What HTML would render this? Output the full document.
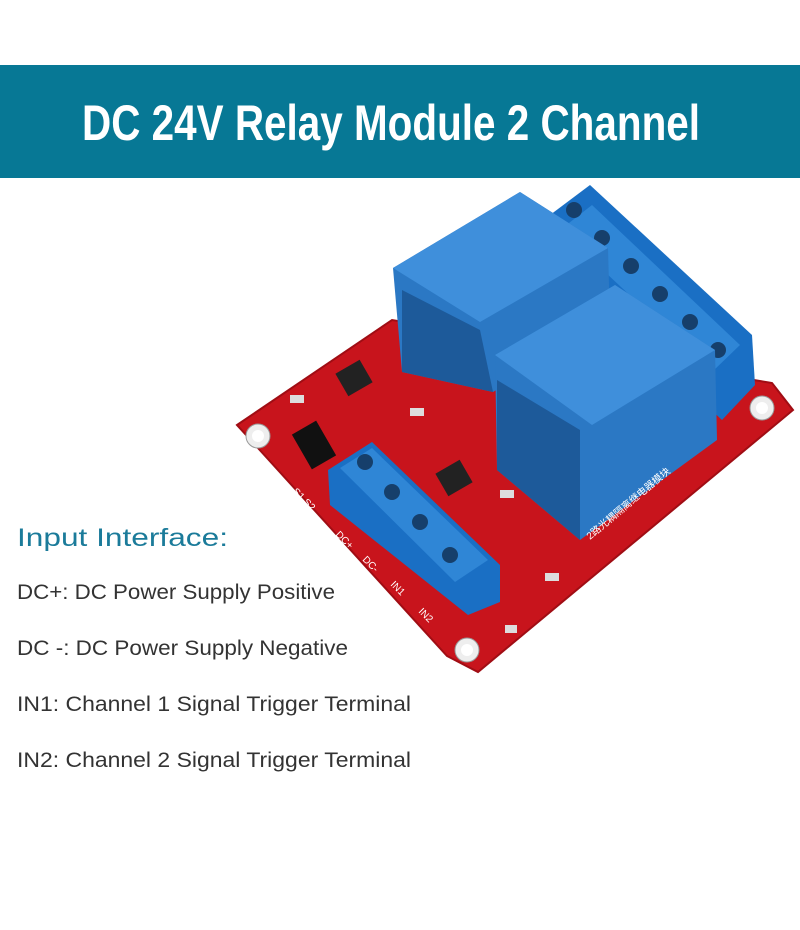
<!DOCTYPE html>
<html><head><meta charset="utf-8"><style>
html,body{margin:0;padding:0;background:#fff;width:800px;height:930px;overflow:hidden;font-family:"Liberation Sans",sans-serif}
</style></head><body>
<div style="position:absolute;left:0;top:65px;width:800px;height:113px;background:#077895"></div>
<svg style="position:absolute;left:0;top:0" width="800" height="930">
<text x="82" y="140" textLength="618" lengthAdjust="spacingAndGlyphs" font-family="Liberation Sans Narrow, Liberation Sans, sans-serif" font-weight="bold" font-size="50" fill="#fff">DC 24V Relay Module 2 Channel</text>
<!-- board -->
<polygon points="237,425 392,320 772,383 793,410 478,672 447,656" fill="#c8141c"/>
<polygon points="237,425 392,320 772,383 793,410 478,672 447,656" fill="none" stroke="#a00d14" stroke-width="2"/>
<circle cx="258" cy="436" r="12" fill="#eee" stroke="#999"/><circle cx="258" cy="436" r="6" fill="#fff"/>
<circle cx="762" cy="408" r="12" fill="#eee" stroke="#999"/><circle cx="762" cy="408" r="6" fill="#fff"/>
<circle cx="467" cy="650" r="12" fill="#eee" stroke="#999"/><circle cx="467" cy="650" r="6" fill="#fff"/>
<!-- right terminal block -->
<polygon points="550,215 590,185 752,335 755,385 722,420 560,270" fill="#1a6fc4"/>
<polygon points="560,230 592,205 740,345 712,372" fill="#2f86d6"/>
<g fill="#163f6b"><circle cx="574" cy="210" r="8"/><circle cx="602" cy="238" r="8"/><circle cx="631" cy="266" r="8"/><circle cx="660" cy="294" r="8"/><circle cx="690" cy="322" r="8"/><circle cx="718" cy="350" r="8"/></g>
<!-- relay 1 -->
<polygon points="393,268 520,192 608,248 610,322 493,392 402,372" fill="#2b78c4"/>
<polygon points="393,268 520,192 608,248 480,322" fill="#3f8fdb"/>
<polygon points="402,372 402,290 480,330 493,392" fill="#1d5a9a"/>
<!-- relay 2 -->
<polygon points="495,355 615,285 715,350 717,440 580,540 497,470" fill="#2b78c4"/>
<polygon points="495,355 615,285 715,350 592,425" fill="#3f8fdb"/>
<polygon points="497,470 497,380 580,430 580,540" fill="#1d5a9a"/>
<!-- chips -->
<rect x="340" y="365" width="28" height="26" fill="#222" transform="rotate(-30 354 378)"/>
<rect x="440" y="465" width="28" height="26" fill="#222" transform="rotate(-30 454 478)"/>
<rect x="300" y="425" width="28" height="40" fill="#111" transform="rotate(-30 314 445)"/>
<g fill="#ddd"><rect x="290" y="395" width="14" height="8"/><rect x="410" y="408" width="14" height="8"/><rect x="500" y="490" width="14" height="8"/><rect x="545" y="573" width="14" height="8"/><rect x="505" y="625" width="12" height="8"/></g>
<!-- left terminal block -->
<polygon points="328,470 372,442 500,565 500,602 468,615 330,505" fill="#1a6fc4"/>
<polygon points="340,468 372,448 488,560 455,582" fill="#2f86d6"/>
<g fill="#163f6b"><circle cx="365" cy="462" r="8"/><circle cx="392" cy="492" r="8"/><circle cx="420" cy="522" r="8"/><circle cx="450" cy="555" r="8"/></g>
<g fill="#fff" font-size="10" font-family="Liberation Sans,sans-serif">
<text x="335" y="535" transform="rotate(45 335 535)">DC+</text>
<text x="362" y="560" transform="rotate(45 362 560)">DC-</text>
<text x="390" y="585" transform="rotate(45 390 585)">IN1</text>
<text x="418" y="612" transform="rotate(45 418 612)">IN2</text>
<text x="292" y="492" transform="rotate(45 292 492)">S1 S2</text>
</g>
<text x="590" y="540" font-size="10" fill="#fff" transform="rotate(-40 590 540)" font-family="Liberation Sans,'Noto Sans CJK SC',sans-serif">2路光耦隔离继电器模块</text>
<!-- left text -->
<text x="17" y="546" textLength="211" lengthAdjust="spacingAndGlyphs" font-size="25" fill="#1b7b9a">Input Interface:</text>
<g font-size="21" fill="#333">
<text x="17" y="599" textLength="318" lengthAdjust="spacingAndGlyphs">DC+: DC Power Supply Positive</text>
<text x="17" y="655" textLength="331" lengthAdjust="spacingAndGlyphs">DC -: DC Power Supply Negative</text>
<text x="17" y="711" textLength="394" lengthAdjust="spacingAndGlyphs">IN1: Channel 1 Signal Trigger Terminal</text>
<text x="17" y="767" textLength="394" lengthAdjust="spacingAndGlyphs">IN2: Channel 2 Signal Trigger Terminal</text>
</g>
</svg>
</body></html>
